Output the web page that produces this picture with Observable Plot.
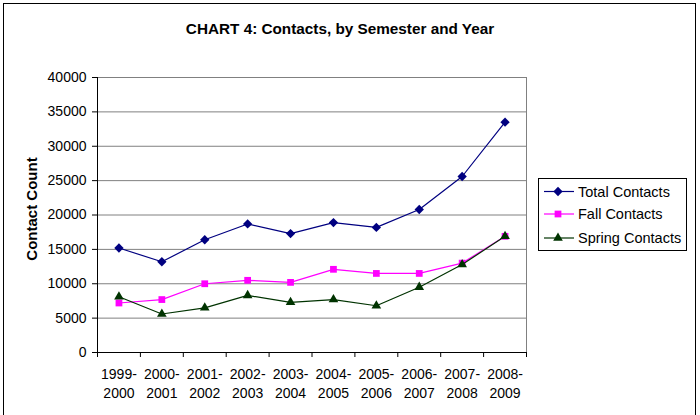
<!DOCTYPE html>
<html><head><meta charset="utf-8">
<script src="https://cdn.jsdelivr.net/npm/d3@7"></script>
<script src="https://cdn.jsdelivr.net/npm/@observablehq/plot@0.6"></script>
<style>
body{margin:0;background:#fff;font-family:"Liberation Sans",Arial,sans-serif;}
#wrap{position:relative;width:700px;height:415px;overflow:hidden;background:#fff;}
#border{position:absolute;left:3px;top:3px;width:691px;height:440px;border:1px solid #000;pointer-events:none;}
#title{position:absolute;left:0;width:680px;top:21px;line-height:16px;text-align:center;font-weight:bold;font-size:15.3px;color:#000;}
#ylab{position:absolute;left:31px;top:209px;transform:translate(-50%,-50%) rotate(-90deg);font-weight:bold;font-size:15px;white-space:nowrap;}
#plot{position:absolute;left:0;top:0;}
#legend{position:absolute;left:538px;top:178px;}
</style></head>
<body>
<div id="wrap">
  <div id="plot"></div>
  <div id="title">CHART 4: Contacts, by Semester and Year</div>
  <div id="ylab">Contact Count</div>
  <div id="legend"></div>
  <div id="border"></div>
</div>
<script>
const years = ["1999-\n2000","2000-\n2001","2001-\n2002","2002-\n2003","2003-\n2004","2004-\n2005","2005-\n2006","2006-\n2007","2007-\n2008","2008-\n2009"];
const totalContacts  = [15200, 13200, 16400, 18700, 17300, 18900, 18200, 20800, 25600, 33500];
const fallContacts   = [7200, 7700, 10000, 10500, 10200, 12100, 11500, 11500, 13000, 16900];
const springContacts = [8100, 5600, 6500, 8300, 7300, 7700, 6800, 9500, 12800, 16900];
const seriesNames = ["Total Contacts","Fall Contacts","Spring Contacts"];
const yTicks = [0,5000,10000,15000,20000,25000,30000,35000,40000];

const styles = {
  "Total Contacts": {color:"#000080", symbol:"diamond2", r:4.2},
  "Fall Contacts": {color:"#FF00FF", symbol:"square2", r:4.3},
  "Spring Contacts": {color:"#003300", symbol:"triangle2", r:4.6}
};

const seriesVals = [totalContacts, fallContacts, springContacts];
const rows = [];
seriesNames.forEach((s, si) => seriesVals[si].forEach((v, i) => rows.push({series:s, i:i+0.5, v})));

const marks = [
  Plot.ruleY(yTicks, {stroke:"#808080", strokeWidth:1}),
  Plot.ruleX([10], {stroke:"#808080"}),
  Plot.axisY({ticks:yTicks, tickFormat:d3.format("d"), tickSize:5, tickPadding:6, fontSize:14, label:null, color:"#000"}),
  Plot.axisX({ticks:d3.range(0,11), tickFormat:()=>"", tickSize:5, label:null}),
  Plot.axisX({ticks:d3.range(0,10).map(i=>i+0.5), tickFormat:d=>years[Math.floor(d)], tickSize:0, tickPadding:13, fontSize:14, lineHeight:1.35, label:null}),
  Plot.ruleX([0], {stroke:"#000"}),
  Plot.ruleY([0], {stroke:"#000"})
];
seriesNames.forEach(s => {
  const d = rows.filter(r => r.series === s);
  const st = styles[s];
  marks.push(Plot.line(d, {x:"i", y:"v", stroke:st.color, strokeWidth:1.2}));
  marks.push(Plot.dot(d, {x:"i", y:"v", symbol:()=>st.symbol, fill:st.color, stroke:"none", r:st.r}));
});

const chart = Plot.plot({
  width:700, height:415,
  marginLeft:97, marginRight:174, marginTop:77, marginBottom:63,
  style:{fontFamily:"'Liberation Sans', Arial, sans-serif", fontSize:"14px", color:"#000", background:"transparent"},
  x:{domain:[0,10]},
  y:{domain:[0,40000]},
  symbol:{type:"identity"},
  marks
});
document.getElementById("plot").appendChild(chart);

// legend
const lg = d3.select("#legend").append("svg").attr("width",150).attr("height",74);
lg.append("rect").attr("x",0.5).attr("y",0.5).attr("width",148).attr("height",72).attr("fill","#fff").attr("stroke","#000");
const rowY = [13.5, 36, 60];
const symMap = {diamond2:d3.symbolDiamond2, square2:d3.symbolSquare2, triangle2:d3.symbolTriangle2};
seriesNames.forEach((s, k) => {
  const st = styles[s];
  const g = lg.append("g").attr("transform", `translate(0,${rowY[k]})`);
  g.append("line").attr("x1",6).attr("x2",36).attr("y1",0).attr("y2",0).attr("stroke",st.color).attr("stroke-width",1.2);
  g.append("path").attr("transform","translate(20,0)").attr("d", d3.symbol(symMap[st.symbol], Math.PI*st.r*st.r)()).attr("fill",st.color);
  g.append("text").attr("x",40).attr("y",0).attr("dy","0.35em").attr("font-size",14.5).attr("font-family","'Liberation Sans', Arial, sans-serif").text(s);
});
</script>
</body></html>
